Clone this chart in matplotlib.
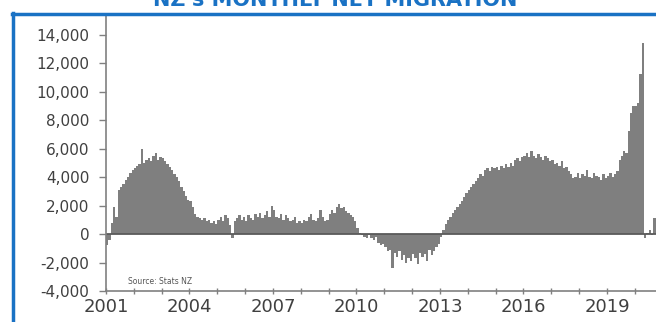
import numpy as np
import matplotlib
matplotlib.use('Agg')
import matplotlib.pyplot as plt
from matplotlib.lines import Line2D

# monthly net migration, Jan 2001 onwards
y2001 = [-800, -400, 800, 1900, 1200, 3100, 3300, 3500, 3800, 4000, 4300, 4500]
y2002 = [4600, 4800, 4900, 6000, 5000, 5200, 5300, 5100, 5500, 5700, 5200, 5400]
y2003 = [5300, 5100, 4900, 4700, 4500, 4200, 4000, 3700, 3300, 3000, 2700, 2400]
y2004 = [2300, 1900, 1400, 1200, 1100, 1000, 1100, 900, 1000, 800, 900, 700]
y2005 = [1000, 1200, 900, 1300, 1100, 600, -300, 900, 1100, 1300, 1000, 1200]
y2006 = [900, 1300, 1100, 1000, 1400, 1200, 1500, 1100, 1300, 1600, 1200, 2000]
y2007 = [1700, 1200, 1100, 1400, 1000, 1300, 1100, 900, 1000, 1200, 800, 900]
y2008 = [800, 1000, 900, 1200, 1400, 1000, 900, 1100, 1700, 1200, 900, 1000]
y2009 = [1400, 1700, 1500, 1900, 2100, 1800, 1900, 1600, 1500, 1300, 1200, 900]
y2010 = [400, 100, -100, -200, -300, -100, -300, -400, -200, -600, -800, -700]
y2011 = [-900, -1200, -1100, -2400, -1300, -1600, -1200, -1800, -1500, -2000, -1700, -1900]
y2012 = [-1400, -1700, -2100, -1300, -1600, -1400, -1900, -1100, -1500, -1200, -900, -700]
y2013 = [-200, 300, 700, 1000, 1200, 1500, 1700, 1900, 2100, 2300, 2600, 2900]
y2014 = [3100, 3300, 3500, 3700, 3900, 4200, 4100, 4500, 4600, 4400, 4700, 4600]
y2015 = [4700, 4500, 4800, 4600, 4900, 4700, 5000, 4800, 5200, 5300, 5100, 5400]
y2016 = [5500, 5700, 5400, 5800, 5500, 5300, 5600, 5400, 5200, 5500, 5300, 5100]
y2017 = [5200, 4900, 5000, 4800, 5100, 4600, 4700, 4400, 4200, 3900, 4000, 4300]
y2018 = [3900, 4200, 4100, 4500, 4000, 3900, 4300, 4100, 4000, 3800, 4200, 3900]
y2019 = [4100, 4300, 4000, 4200, 4400, 5200, 5500, 5800, 5700, 7200, 8500, 9000]
y2020 = [9000, 9200, 11200, 13400, -300, 100, 300, -100, 1100, 700]

years = [f"{y}" for y in range(2001, 2020, 3)]
yticks = list(range(-4000, 14001, 2000))

values = np.array(y2001 + y2002 + y2003 + y2004 + y2005 + y2006 + y2007 + y2008 +
                  y2009 + y2010 + y2011 + y2012 + y2013 + y2014 + y2015 + y2016 +
                  y2017 + y2018 + y2019 + y2020)
dates = 2001 + np.arange(len(values)) / 12.0

fig = plt.figure(figsize=(6.56, 3.22), dpi=100)
ax = fig.add_axes([106 / 656, 31 / 322, 1 - 106 / 656, 275 / 322])

ax.bar(dates, values, width=1 / 12, align='edge', color='#7f7f7f', linewidth=0)
ax.axhline(0, color='#5a5a5a', lw=1.3)

ax.set_xlim(2001, 2001 + 550 / 27.83)
ax.set_ylim(-4000, 15300)
ax.set_yticks(yticks)
ax.set_yticklabels([f"{v:,}" for v in yticks], fontsize=11, color='#404040')
ax.set_xticks([int(y) for y in years])
ax.set_xticklabels(years, fontsize=13, color='#404040')
ax.set_xticks(range(2001, 2021), minor=True)

for s in ['top', 'right']:
    ax.spines[s].set_visible(False)
for s in ['left', 'bottom']:
    ax.spines[s].set_color('#808080')
    ax.spines[s].set_linewidth(1.2)
ax.tick_params(axis='y', length=5, width=1, color='#808080', pad=7)
ax.tick_params(axis='x', which='both', direction='inout', length=4, width=1,
               color='#808080', pad=3)

ax.text(0.04, 0.036, 'Source: Stats NZ', transform=ax.transAxes, fontsize=5.5,
        color='#555555', va='center')

# blue frame around the chart
blue = '#1a72c4'
fig.add_artist(Line2D([12 / 656, 1.0], [1 - 13.5 / 322] * 2, color=blue, lw=2.5))
fig.add_artist(Line2D([12.5 / 656] * 2, [0, 1 - 12.5 / 322], color=blue, lw=2.5))

fig.text(335 / 656, 1 - 6 / 322, "NZ's MONTHLY NET MIGRATION", ha='center',
         va='baseline', fontsize=15, fontweight='bold', color=blue)

fig.savefig('out.png', dpi=100)
